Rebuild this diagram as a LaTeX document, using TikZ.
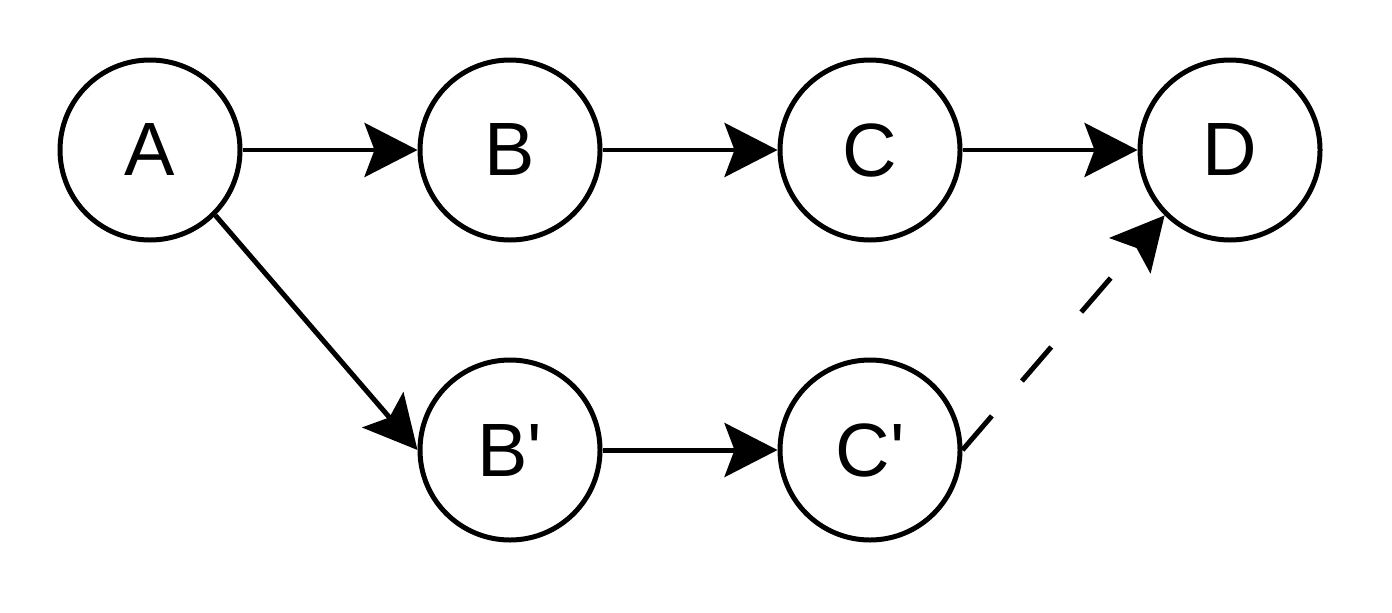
\documentclass[tikz,border=0pt]{standalone}
\usepackage{fontspec}
\setmainfont{Liberation Sans}
\usetikzlibrary{arrows.meta}
\tikzset{
  state/.style={circle,draw,line width=1.42pt,minimum size=1.8cm,inner sep=0pt,
    font=\fontsize{21.5}{26}\selectfont},
  edge/.style={line width=1.42pt,-{Stealth[length=0.53cm,width=0.54cm,inset=0.1cm]}}
}
\begin{document}
\begin{tikzpicture}
  \useasboundingbox (0,0) rectangle (13.92,-6.12);
  \node[state] (A) at (1.5,-1.5) {A};
  \node[state] (B) at (5.1,-1.5) {B};
  \node[state] (C) at (8.7,-1.5) {C};
  \node[state] (D) at (12.3,-1.5) {D};
  \node[state] (B2) at (5.1,-4.5) {B\textquotesingle};
  \node[state] (C2) at (8.7,-4.5) {C\textquotesingle};
  \draw[edge] (A) -- (B);
  \draw[edge] (B) -- (C);
  \draw[edge] (C) -- (D);
  \draw[edge] (A.-45) -- (B2.west);
  \draw[edge] (B2) -- (C2);
  \draw[edge,dash pattern=on 0.45cm off 0.46cm] (C2.east) -- (D.225);
\end{tikzpicture}
\end{document}
